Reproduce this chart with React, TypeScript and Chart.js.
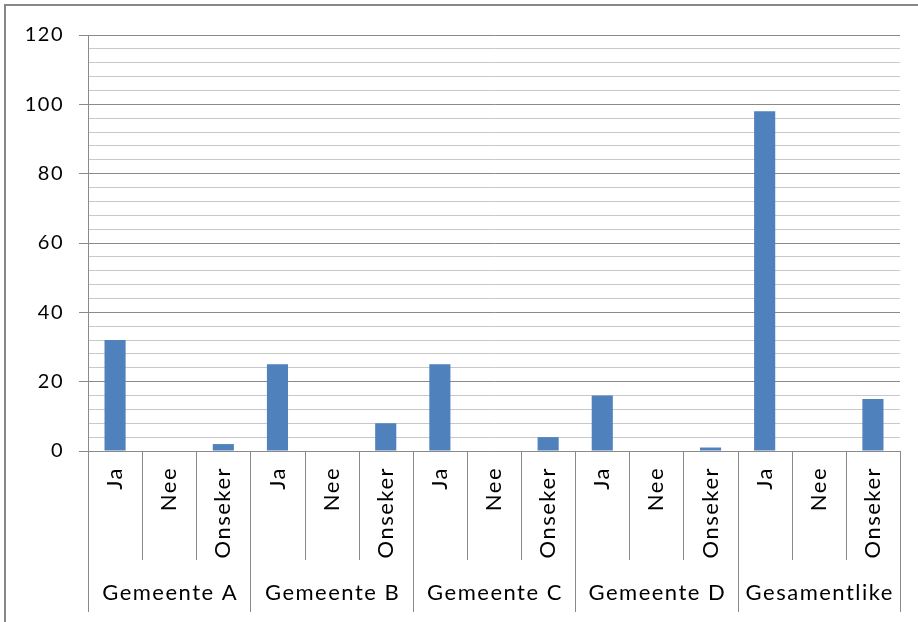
import React, { useEffect, useRef } from "react";
import { Chart, registerables } from "chart.js";

Chart.register(...registerables);

const groups = ["Gemeente A", "Gemeente B", "Gemeente C", "Gemeente D", "Gesamentlike"];
const answers = ["Ja", "Nee", "Onseker"];
const values = [32, 0, 2, 25, 0, 8, 25, 0, 4, 16, 0, 1, 98, 0, 15];
const yMin = 0;
const yMax = 120;
const yMinorStep = 4;
const yMajorStep = 20;

const FONT = "Lato, 'Open Sans', sans-serif";

export default function App() {
  const ref = useRef<HTMLCanvasElement | null>(null);

  useEffect(() => {
    document.body.style.margin = "0";
    const canvas = ref.current!;
    const labels: string[] = [];
    groups.forEach((g) => answers.forEach((a) => labels.push(a)));

    const decor = {
      id: "decor",
      beforeDraw(chart: any) {
        const c = chart.ctx;
        c.save();
        c.fillStyle = "#fff";
        c.fillRect(0, 0, chart.width, chart.height);
        c.restore();
        c.letterSpacing = "1.5px";
      },
      afterDraw(chart: any) {
        const c = chart.ctx;
        const xs = chart.scales.x;
        const bottom = chart.chartArea.bottom;
        const n = labels.length;
        const half = (xs.getPixelForValue(1) - xs.getPixelForValue(0)) / 2;
        c.save();
        c.strokeStyle = "#8a8a8a";
        c.lineWidth = 1;
        for (let i = 0; i <= n; i++) {
          const x = Math.round(i < n ? xs.getPixelForValue(i) - half : xs.getPixelForValue(n - 1) + half) + 0.5;
          const end = i % answers.length === 0 ? 612 : 560;
          c.beginPath();
          c.moveTo(x, bottom);
          c.lineTo(x, end);
          c.stroke();
        }
        c.fillStyle = "#000";
        c.font = `22px ${FONT}`;
        c.letterSpacing = "1.5px";
        for (let i = 0; i < n; i++) {
          const cx = xs.getPixelForValue(i);
          c.save();
          c.translate(cx, bottom + 16);
          c.rotate(-Math.PI / 2);
          c.textAlign = "right";
          c.textBaseline = "middle";
          c.fillText(labels[i], 0, 0);
          c.restore();
        }
        c.textAlign = "center";
        c.textBaseline = "middle";
        groups.forEach((g, gi) => {
          const x0 = xs.getPixelForValue(gi * answers.length) - half;
          const x1 = xs.getPixelForValue(gi * answers.length + answers.length - 1) + half;
          c.fillText(g, (x0 + x1) / 2 + 1, 593);
        });
        // outer frame
        c.strokeStyle = "#888888";
        c.lineWidth = 2;
        c.beginPath();
        c.moveTo(5, chart.height);
        c.lineTo(5, 5);
        c.lineTo(chart.width, 5);
        c.stroke();
        c.restore();
      },
    };

    const chart = new Chart(canvas, {
      type: "bar",
      data: {
        labels,
        datasets: [
          {
            data: values,
            backgroundColor: "#4F81BD",
            barPercentage: 0.39,
            categoryPercentage: 1,
          },
        ],
      },
      options: {
        responsive: false,
        animation: false,
        devicePixelRatio: 1,
        layout: { padding: { top: 35, right: 18, left: 0, bottom: 0 } },
        plugins: { legend: { display: false }, tooltip: { enabled: false } },
        scales: {
          x: {
            type: "category",
            ticks: { display: false },
            grid: { display: false },
            border: { display: true, color: "#8a8a8a" },
            afterFit: (s: any) => {
              s.height = 171;
            },
          },
          y: {
            min: yMin,
            max: yMax,
            ticks: {
              stepSize: yMinorStep,
              autoSkip: false,
              padding: 15,
              color: "#000",
              font: { family: FONT, size: 20 },
              callback: (v: any) => (Number(v) % yMajorStep === 0 ? String(v) : ""),
            },
            grid: {
              color: (ctx: any) =>
                ctx.tick && ctx.tick.value % yMajorStep === 0 ? "#8a8a8a" : "#c8c8c8",
              tickColor: (ctx: any) =>
                ctx.tick && ctx.tick.value % yMajorStep === 0 ? "#8a8a8a" : "rgba(0,0,0,0)",
              tickLength: 9,
            },
            border: { display: true, color: "#8a8a8a" },
            afterFit: (s: any) => {
              s.width = 88;
            },
          },
        },
      },
      plugins: [decor],
    });
    return () => chart.destroy();
  }, []);

  return (
    <div style={{ position: "absolute", left: 0, top: 0, width: 918, height: 622 }}>
      <canvas ref={ref} width={918} height={622} />
    </div>
  );
}
